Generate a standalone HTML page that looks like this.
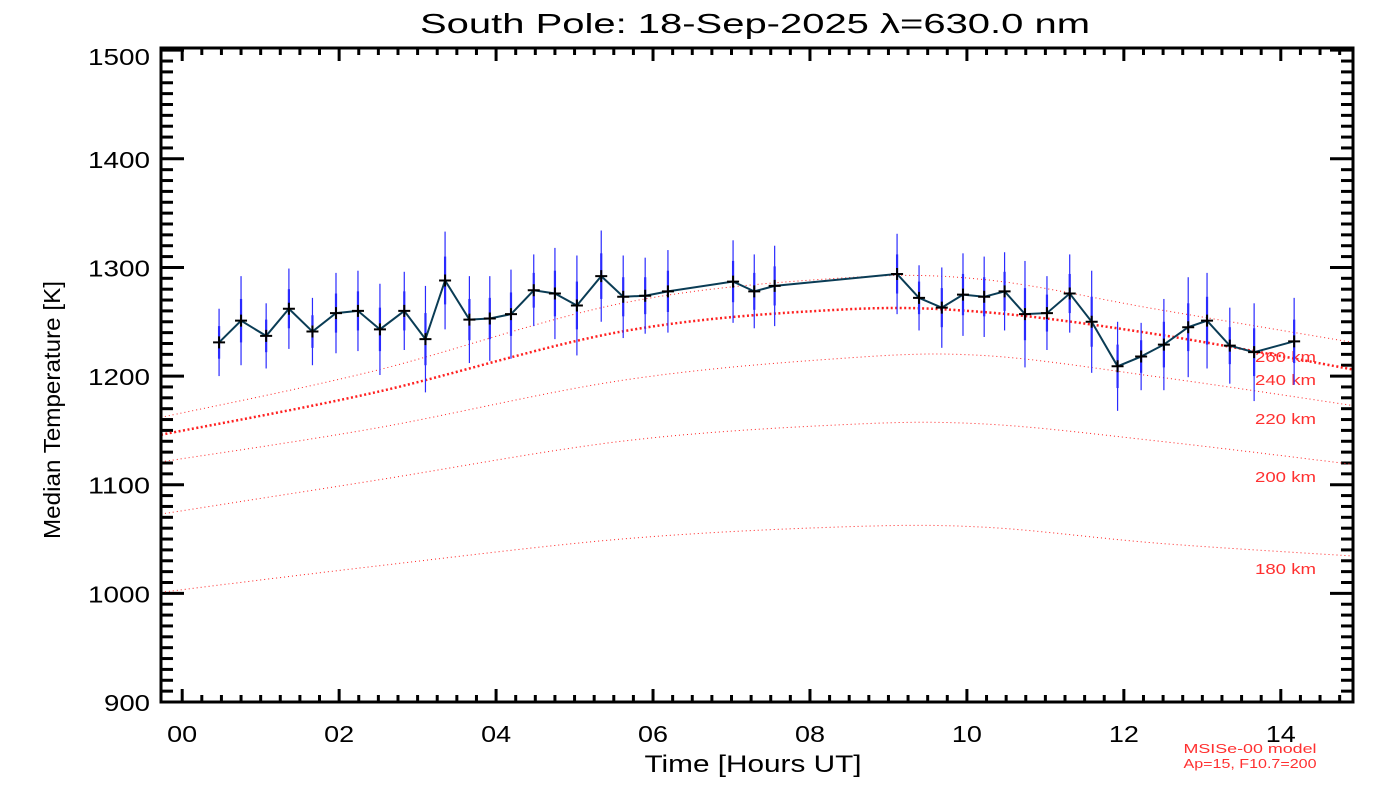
<!DOCTYPE html>
<html><head><meta charset="utf-8"><style>
html,body{margin:0;padding:0;background:#fff;}
svg{display:block;font-family:"Liberation Sans",sans-serif;}
</style></head><body>
<svg id="chart" width="1400" height="800" viewBox="0 0 1400 800">
<rect x="0" y="0" width="1400" height="800" fill="#fff"/>
<text x="755" y="33" font-size="28" text-anchor="middle" textLength="670" lengthAdjust="spacingAndGlyphs" fill="#000">South Pole: 18-Sep-2025 λ=630.0 nm</text>
<text transform="translate(60,410) rotate(-90)" font-size="23" text-anchor="middle" textLength="258" lengthAdjust="spacingAndGlyphs" fill="#000">Median Temperature [K]</text>
<text x="753" y="772" font-size="24" text-anchor="middle" textLength="217" lengthAdjust="spacingAndGlyphs" fill="#000">Time [Hours UT]</text>
<text x="1250" y="753" font-size="13" text-anchor="middle" textLength="133" lengthAdjust="spacingAndGlyphs" fill="#ff3030">MSISe-00 model</text>
<text x="1250" y="768" font-size="13" text-anchor="middle" textLength="133" lengthAdjust="spacingAndGlyphs" fill="#ff3030">Ap=15, F10.7=200</text>
<g id="grid"></g>
<g id="models"></g>
<g id="series"></g>
<rect x="161" y="48" width="1192" height="654" fill="none" stroke="#000" stroke-width="3"/>
</svg>
<script>
const hours=[0.47,0.75,1.07,1.36,1.66,1.96,2.24,2.52,2.83,3.10,3.35,3.66,3.92,4.19,4.48,4.75,5.03,5.34,5.62,5.90,6.19,7.02,7.29,7.55,9.11,9.39,9.68,9.95,10.22,10.48,10.74,11.02,11.31,11.59,11.92,12.22,12.51,12.82,13.06,13.35,13.66,14.17];
const temps=[1231,1251,1237,1262,1241,1258,1260,1243,1260,1234,1288,1252,1253,1257,1279,1276,1265,1292,1273,1274,1278,1287,1278,1283,1294,1272,1263,1275,1273,1278,1257,1258,1276,1250,1209,1218,1229,1245,1251,1228,1222,1232];
const errOuter=[31,41,30,37,31,37,37,42,36,49,45,40,39,41,33,42,46,42,38,35,38,38,34,37,37,30,37,38,37,36,49,34,36,47,41,31,42,46,44,35,45,40];
const errInner=[15,20,15,18,15,18,18,20,18,24,22,19,19,20,16,21,22,21,18,17,19,19,17,18,18,15,18,19,18,18,24,17,18,23,20,15,21,22,22,17,22,20];
const modelHours=[-0.27,2.46,5.6,8.34,10.2,12.46,15.0];
const model180=[1001,1025,1050,1061,1061,1046,1034];
const model200=[1073,1104,1140,1155,1156,1140,1118];
const model220=[1121,1152,1196,1216,1219,1199,1172];
const model240=[1146,1185,1241,1261,1259,1238,1205];
const model260=[1162,1205,1267,1290,1289,1261,1230];
const yTicks=[900,1000,1100,1200,1300,1400,1500];
const xTicks=[0,2,4,6,8,10,12,14];
const xTickLabels=["00","02","04","06","08","10","12","14"];
const modelLabels=["260 km","240 km","220 km","200 km","180 km"];

const NS="http://www.w3.org/2000/svg";
const X0=161,X1=1353,Y0=702,Y1=48;
const xmin=-0.27,xmax=14.92,ymin=900,ymax=1502;
function xs(h){return X0+(h-xmin)/(xmax-xmin)*(X1-X0);}
function ys(t){return Y0-(t-ymin)/(ymax-ymin)*(Y0-Y1);}
function mk(tag,attrs,parent){const e=document.createElementNS(NS,tag);for(const k in attrs)e.setAttribute(k,attrs[k]);parent.appendChild(e);return e;}
const grid=document.getElementById('grid'),models=document.getElementById('models'),series=document.getElementById('series');

for(let v=900;v<=1500;v+=10){
  const major=(v%100===0);const L=major?23:12;const y=ys(v);
  const a=mk('line',{x1:X0,x2:X0+L,y1:y,y2:y,stroke:'#000','stroke-width':3},grid);
  
  
  const b=mk('line',{x1:X1,x2:X1-L,y1:y,y2:y,stroke:'#000','stroke-width':3},grid);
  
  
}
yTicks.forEach(v=>{
  const yy=(v===1500)?ys(v)+15:ys(v)+9;
  const t=mk('text',{x:150,y:yy,'font-size':23,'text-anchor':'end',textLength:(v<1000?46:62),lengthAdjust:'spacingAndGlyphs',fill:'#000'},grid);
  t.textContent=v;
  
  
});
for(let h=0;h<=14.9;h+=0.25){
  const major=Math.abs(h-Math.round(h/2)*2)<1e-6;const L=major?13:7;const x=xs(h);
  const a=mk('line',{x1:x,x2:x,y1:Y0,y2:Y0-L,stroke:'#000','stroke-width':3},grid);
  
  
  const b=mk('line',{x1:x,x2:x,y1:Y1,y2:Y1+L,stroke:'#000','stroke-width':3},grid);
  
  
}
xTicks.forEach((h,i)=>{
  const t=mk('text',{x:xs(h),y:742,'font-size':23,'text-anchor':'middle',textLength:30,lengthAdjust:'spacingAndGlyphs',fill:'#000'},grid);
  t.textContent=xTickLabels[i];
  
  
});
function curvePath(hs,vs){
  const p=hs.map((h,i)=>[xs(h),ys(vs[i])]);
  let d='M'+p[0][0]+','+p[0][1];
  for(let i=0;i<p.length-1;i++){
    const p0=p[Math.max(0,i-1)],p1=p[i],p2=p[i+1],p3=p[Math.min(p.length-1,i+2)];
    const c1=[p1[0]+(p2[0]-p0[0])/6,p1[1]+(p2[1]-p0[1])/6];
    const c2=[p2[0]-(p3[0]-p1[0])/6,p2[1]-(p3[1]-p1[1])/6];
    d+=' C'+c1[0]+','+c1[1]+' '+c2[0]+','+c2[1]+' '+p2[0]+','+p2[1];
  }
  return d;
}
const clip=mk('clipPath',{id:'pc'},models);
mk('rect',{x:X0,y:Y1,width:X1-X0,height:Y0-Y1},clip);
const modelSets=[model260,model240,model220,model200,model180];
const modelNames=['model-260km','model-240km','model-220km','model-200km','model-180km'];
modelSets.forEach((vals,i)=>{
  const thick=(i===1);
  const p=mk('path',{d:curvePath(modelHours,vals),fill:'none',stroke:'#ff2020','stroke-width':thick?2.5:1,'stroke-dasharray':thick?'2 2.5':'1 3','clip-path':'url(#pc)'},models);
  
  
});
const labelY=[362,385,424,482,574];
modelLabels.forEach((s,i)=>{
  const t=mk('text',{x:1255,y:labelY[i],'font-size':15,textLength:61,lengthAdjust:'spacingAndGlyphs',fill:'#ff3030'},models);
  t.textContent=s;
  
  
});
hours.forEach((h,i)=>{
  const x=xs(h);
  const o=mk('line',{x1:x,x2:x,y1:ys(temps[i]-errOuter[i]),y2:ys(temps[i]+errOuter[i]),stroke:'#2a2aff','stroke-width':1.2},series);
  
  
  const n=mk('line',{x1:x,x2:x,y1:ys(temps[i]-errInner[i]),y2:ys(temps[i]+errInner[i]),stroke:'#2a2aff','stroke-width':2.2},series);
  
  
});
const line=mk('polyline',{points:hours.map((h,i)=>xs(h)+','+ys(temps[i])).join(' '),fill:'none',stroke:'#0a3c55','stroke-width':2},series);


hours.forEach((h,i)=>{
  const x=xs(h),y=ys(temps[i]);
  const m=mk('path',{d:`M${x-6},${y}H${x+6}M${x},${y-6}V${y+6}`,stroke:'#000','stroke-width':2},series);
  
  
});
</script>
</body></html>
